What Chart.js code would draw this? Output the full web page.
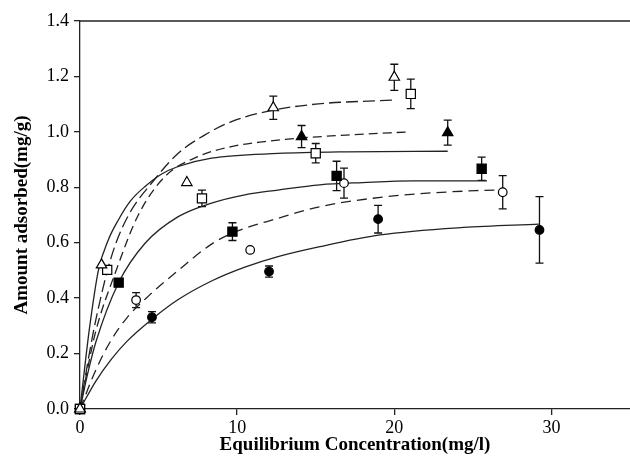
<!DOCTYPE html>
<html>
<head>
<meta charset="utf-8">
<script src="https://cdn.jsdelivr.net/npm/chart.js@4/dist/chart.umd.min.js"></script>
<style>
  html,body{margin:0;padding:0;background:#fff;}
  #wrap{width:630px;height:467px;}
</style>
</head>
<body>
<div id="wrap"><canvas id="chart" width="630" height="467"></canvas></div>
<script>
// axis ticks
const xTicks = [0, 10, 20, 30];
const yTicks = [0, 0.2, 0.4, 0.6, 0.8, 1.0, 1.2, 1.4];

// measured points (x = equilibrium conc, y = amount adsorbed, err = error bar half height)
const openTriX = [0, 1.37, 6.8, 12.3, 20.0];
const openTriY = [0, 0.52, 0.817, 1.087, 1.197];
const openTriErr = [0, 0, 0, 0.042, 0.047];

const openSqX = [0, 1.73, 7.76, 15.0, 21.05];
const openSqY = [0, 0.502, 0.76, 0.923, 1.137];
const openSqErr = [0, 0, 0.03, 0.035, 0.053];

const fillTriX = [0, 14.1, 23.4];
const fillTriY = [0, 0.983, 0.997];
const fillTriErr = [0, 0.04, 0.045];

const fillSqX = [0, 2.46, 9.7, 16.33, 25.56];
const fillSqY = [0, 0.456, 0.64, 0.841, 0.867];
const fillSqErr = [0, 0, 0.032, 0.053, 0.042];

const openCircX = [0, 3.57, 10.83, 16.8, 26.9];
const openCircY = [0, 0.393, 0.574, 0.815, 0.782];
const openCircErr = [0, 0.027, 0, 0.054, 0.06];

const fillCircX = [0, 4.58, 12.03, 18.97, 29.24];
const fillCircY = [0, 0.331, 0.496, 0.685, 0.646];
const fillCircErr = [0, 0.02, 0.02, 0.05, 0.12];

// fitted curves
const fit1X = [0, 0.5, 1.0, 2.0, 3.0, 4.77, 6.25, 7.95, 9.64, 12.0, 15.0, 20.0];      // long dash, top
const fit1Y = [0, 0.17, 0.32, 0.55, 0.69, 0.83, 0.923, 0.989, 1.037, 1.075, 1.1, 1.115];

const fit2X = [0, 0.5, 1.0, 2.3, 3.71, 5.41, 7.52, 9.64, 11.76, 14.1, 17.5, 21.0];     // dash
const fit2Y = [0, 0.15, 0.28, 0.5, 0.70, 0.839, 0.911, 0.947, 0.965, 0.978, 0.99, 1.0];

const fit3X = [0, 0.3, 0.6, 1.17, 1.8, 2.44, 3.2, 4.14, 5.2, 6.25, 8.37, 12.6, 17.0, 23.4]; // solid, flat at 0.93
const fit3Y = [0, 0.15, 0.29, 0.50, 0.61, 0.682, 0.75, 0.803, 0.848, 0.875, 0.905, 0.922, 0.928, 0.93];

const fit4X = [0, 0.5, 1.0, 2.44, 4.14, 6.25, 8.37, 10.49, 12.6, 15.27, 18.0, 21.2, 25.9]; // solid
const fit4Y = [0, 0.13, 0.24, 0.454, 0.598, 0.694, 0.743, 0.773, 0.79, 0.809, 0.817, 0.823, 0.823];

const fit5X = [0, 1.0, 2.0, 3.0, 4.4, 6.25, 8.37, 9.7, 12.6, 15.27, 19.5, 25.2, 27.0];  // medium dash
const fit5Y = [0, 0.14, 0.25, 0.33, 0.41, 0.50, 0.595, 0.635, 0.688, 0.73, 0.766, 0.788, 0.79];

const fit6X = [0, 1.0, 2.0, 3.0, 4.6, 6.25, 8.37, 10.49, 12.6, 15.27, 19.1, 24.4, 29.2]; // solid, bottom
const fit6Y = [0, 0.10, 0.18, 0.245, 0.325, 0.395, 0.462, 0.512, 0.55, 0.586, 0.628, 0.655, 0.667];

const serif = "'Liberation Serif', 'Times New Roman', serif";

function pts(xs, ys){
  return xs.map((x, i) => ({x: x, y: ys[i]}));
}

const markerSize = {triangle: 6, rect: 6.5, circle: 4.3};

function marker(label, xs, ys, errs, style, fill){
  return {
    type: 'scatter',
    label: label,
    data: pts(xs, ys),
    errs: errs,
    pointStyle: style,
    pointRadius: markerSize[style],
    pointBackgroundColor: fill,
    pointBorderColor: '#000',
    pointBorderWidth: 1.2,
    clip: false
  };
}

function curve(label, xs, ys, dash){
  return {
    type: 'line',
    label: label,
    data: pts(xs, ys),
    borderColor: '#222',
    borderWidth: 1.3,
    borderDash: dash,
    pointRadius: 0,
    fill: false,
    cubicInterpolationMode: 'monotone'
  };
}

// vertical error bars with caps, drawn under the markers
const errorBars = {
  id: 'errorBars',
  beforeDatasetsDraw(chart){
    const ctx = chart.ctx;
    const xs = chart.scales.x, ys = chart.scales.y;
    ctx.save();
    ctx.strokeStyle = '#111';
    ctx.lineWidth = 1.3;
    chart.data.datasets.forEach(ds => {
      if(!ds.errs) return;
      ds.data.forEach((p, i) => {
        const e = ds.errs[i];
        if(!e) return;
        const px = xs.getPixelForValue(p.x);
        const top = ys.getPixelForValue(p.y + e);
        const bot = ys.getPixelForValue(p.y - e);
        ctx.beginPath();
        ctx.moveTo(px, top); ctx.lineTo(px, bot);
        ctx.moveTo(px - 4, top); ctx.lineTo(px + 4, top);
        ctx.moveTo(px - 4, bot); ctx.lineTo(px + 4, bot);
        ctx.stroke();
      });
    });
    ctx.restore();
  }
};

// frame line along the top
const topBorder = {
  id: 'topBorder',
  afterDraw(chart){
    const a = chart.chartArea, ctx = chart.ctx;
    ctx.save();
    ctx.strokeStyle = '#222';
    ctx.lineWidth = 1.3;
    ctx.beginPath();
    ctx.moveTo(a.left, a.top);
    ctx.lineTo(a.right, a.top);
    ctx.stroke();
    ctx.restore();
  }
};

new Chart(document.getElementById('chart').getContext('2d'), {
  data: {
    datasets: [
      marker('open triangle', openTriX, openTriY, openTriErr, 'triangle', '#fff'),
      marker('open square', openSqX, openSqY, openSqErr, 'rect', '#fff'),
      marker('filled triangle', fillTriX, fillTriY, fillTriErr, 'triangle', '#000'),
      marker('filled square', fillSqX, fillSqY, fillSqErr, 'rect', '#000'),
      marker('open circle', openCircX, openCircY, openCircErr, 'circle', '#fff'),
      marker('filled circle', fillCircX, fillCircY, fillCircErr, 'circle', '#000'),
      curve('fit 1', fit1X, fit1Y, [12, 5]),
      curve('fit 2', fit2X, fit2Y, [9, 5]),
      curve('fit 3', fit3X, fit3Y, []),
      curve('fit 4', fit4X, fit4Y, []),
      curve('fit 5', fit5X, fit5Y, [10, 6]),
      curve('fit 6', fit6X, fit6Y, [])
    ]
  },
  options: {
    responsive: false,
    animation: false,
    layout: {autoPadding: false, padding: {top: 21, right: 0, left: 0, bottom: 0}},
    plugins: {legend: {display: false}, tooltip: {enabled: false}},
    scales: {
      x: {
        type: 'linear',
        min: 0, max: 35,
        afterBuildTicks: axis => { axis.ticks = xTicks.map(v => ({value: v})); },
        afterFit: axis => { axis.height = 58; },
        grid: {drawOnChartArea: false, drawTicks: true, tickLength: 6, color: '#222', lineWidth: 1.3},
        border: {color: '#222', width: 1.3},
        ticks: {color: '#000', padding: 2, font: {family: serif, size: 18}, callback: v => String(v)},
        title: {display: true, text: 'Equilibrium Concentration(mg/l)', color: '#000',
                font: {family: serif, size: 19, weight: 'bold'}, padding: {top: 0, bottom: 11}}
      },
      y: {
        type: 'linear',
        min: 0, max: 1.4,
        afterBuildTicks: axis => { axis.ticks = yTicks.map(v => ({value: v})); },
        afterFit: axis => { axis.width = 80; },
        grid: {drawOnChartArea: false, drawTicks: true, tickLength: 6, color: '#222', lineWidth: 1.3},
        border: {color: '#222', width: 1.3},
        ticks: {color: '#000', padding: 5, font: {family: serif, size: 18}, callback: v => v.toFixed(1)},
        title: {display: true, text: 'Amount adsorbed(mg/g)', color: '#000',
                font: {family: serif, size: 19, weight: 'bold'}, padding: {top: 11, bottom: 0}}
      }
    }
  },
  plugins: [errorBars, topBorder]
});
</script>
</body>
</html>
